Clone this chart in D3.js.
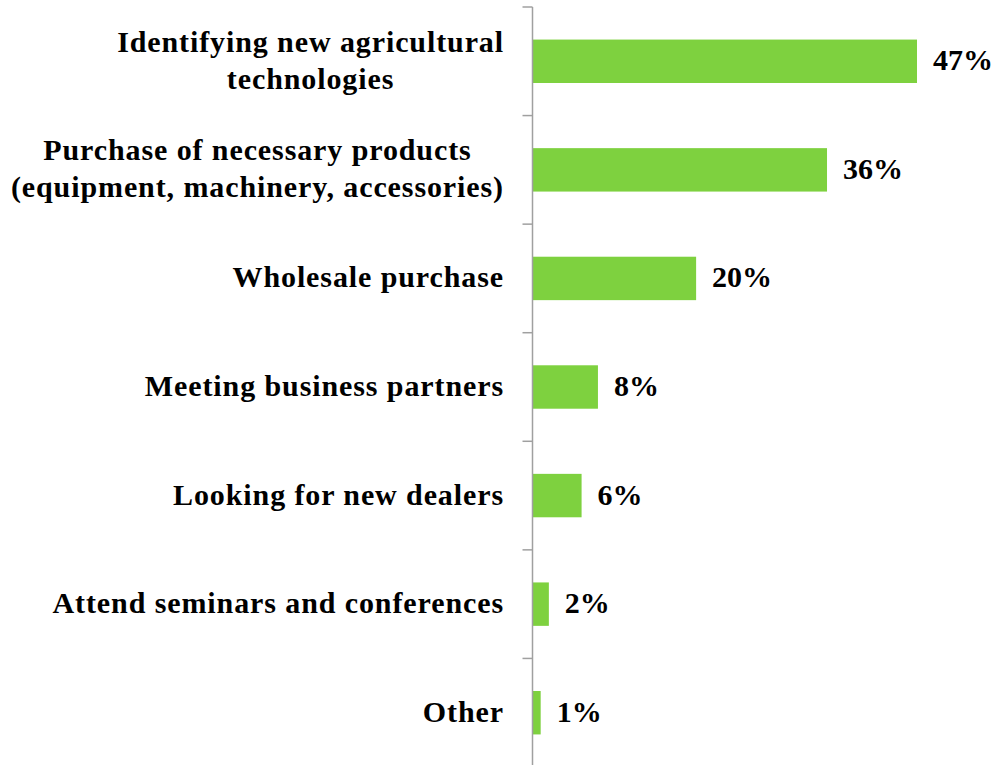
<!DOCTYPE html>
<html>
<head>
<meta charset="utf-8">
<script src="https://cdn.jsdelivr.net/npm/d3@7"></script>
<style>
  html, body { margin: 0; padding: 0; background: #fff; }
  svg { display: block; }
  text { font-family: "Liberation Serif", "Times New Roman", serif; font-weight: bold; fill: #000; }
</style>
</head>
<body>
<svg id="chart" width="996" height="765"></svg>
<script>
// Reasons for visiting the exhibition (share of respondents, %)
const categories = [
  ["Identifying new agricultural", "technologies"],
  ["Purchase of necessary products", "(equipment, machinery, accessories)"],
  ["Wholesale purchase"],
  ["Meeting business partners"],
  ["Looking for new dealers"],
  ["Attend seminars and conferences"],
  ["Other"]
];
const values = [47, 36, 20, 8, 6, 2, 1];
const valueLabels = ["47%", "36%", "20%", "8%", "6%", "2%", "1%"];

const svg = d3.select("#chart");
const axisX = 532.5;
const plotTop = 7, plotBottom = 767;

const y = d3.scaleBand()
  .domain(d3.range(values.length))
  .range([plotTop, plotBottom])
  .paddingInner(0.6)
  .paddingOuter(0.3);

const x = d3.scaleLinear().domain([0, 47]).range([axisX, 917]);

// bars
svg.append("g").selectAll("rect")
  .data(values)
  .join("rect")
  .attr("x", axisX)
  .attr("y", (d, i) => y(i))
  .attr("width", d => x(d) - axisX)
  .attr("height", y.bandwidth())
  .attr("fill", "#7ED13F");

// category axis with boundary ticks
const step = (plotBottom - plotTop) / values.length;
const axis = svg.append("g").attr("stroke", "#a0a0a0").attr("stroke-width", 1.5);
axis.append("line").attr("x1", axisX).attr("x2", axisX).attr("y1", plotTop).attr("y2", plotBottom);
axis.selectAll("line.tick")
  .data(d3.range(values.length + 1))
  .join("line")
  .attr("class", "tick")
  .attr("x1", axisX - 10).attr("x2", axisX)
  .attr("y1", i => plotTop + i * step).attr("y2", i => plotTop + i * step);

// category labels: block right-aligned, lines centred within the block
const fs = 30;
const lineH = 37;
const labelRight = 504;
const baseShift = 9;
svg.append("g").selectAll("text")
  .data(categories)
  .join("text")
  .attr("text-anchor", "middle")
  .attr("font-size", fs)
  .attr("letter-spacing", 0.9)
  .each(function(lines, i) {
    const cy = y(i) + y.bandwidth() / 2;
    const t = d3.select(this);
    const startY = cy - (lines.length - 1) * lineH / 2 + baseShift;
    const spans = lines.map((ln, k) =>
      t.append("tspan").attr("y", startY + k * lineH).text(ln));
    const maxW = d3.max(spans, s => s.node().getComputedTextLength());
    spans.forEach(s => s.attr("x", labelRight - maxW / 2));
  });

// value labels
svg.append("g").selectAll("text")
  .data(values)
  .join("text")
  .attr("x", d => x(d) + 16)
  .attr("y", (d, i) => y(i) + y.bandwidth() / 2 + baseShift)
  .attr("font-size", fs)
  .text((d, i) => valueLabels[i]);
</script>
</body>
</html>
